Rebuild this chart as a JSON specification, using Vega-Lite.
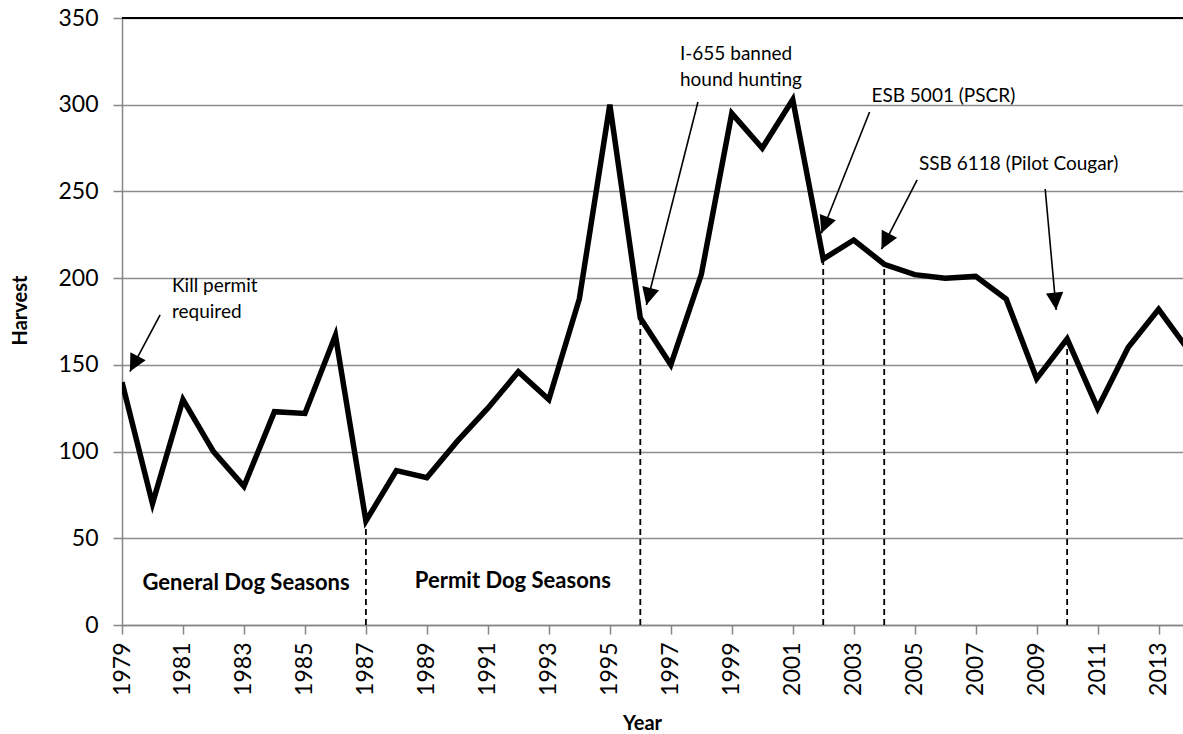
{
  "$schema": "https://vega.github.io/schema/vega-lite/v6.json",
  "autosize": {"type": "none"},
  "padding": {"left": 122, "top": 18, "right": 0, "bottom": 109},
  "width": 1061,
  "height": 607,
  "background": "white",
  "config": {"view": {"stroke": null}, "font": "Lato"},
  "datasets": {
    "harvest": [
      {"year": 1979, "harvest": 140}, {"year": 1980, "harvest": 70}, {"year": 1981, "harvest": 130},
      {"year": 1982, "harvest": 100}, {"year": 1983, "harvest": 80}, {"year": 1984, "harvest": 123},
      {"year": 1985, "harvest": 122}, {"year": 1986, "harvest": 167}, {"year": 1987, "harvest": 60},
      {"year": 1988, "harvest": 89}, {"year": 1989, "harvest": 85}, {"year": 1990, "harvest": 106},
      {"year": 1991, "harvest": 125}, {"year": 1992, "harvest": 146}, {"year": 1993, "harvest": 130},
      {"year": 1994, "harvest": 188}, {"year": 1995, "harvest": 300}, {"year": 1996, "harvest": 177},
      {"year": 1997, "harvest": 150}, {"year": 1998, "harvest": 202}, {"year": 1999, "harvest": 295},
      {"year": 2000, "harvest": 275}, {"year": 2001, "harvest": 303}, {"year": 2002, "harvest": 211},
      {"year": 2003, "harvest": 222}, {"year": 2004, "harvest": 208}, {"year": 2005, "harvest": 202},
      {"year": 2006, "harvest": 200}, {"year": 2007, "harvest": 201}, {"year": 2008, "harvest": 188},
      {"year": 2009, "harvest": 142}, {"year": 2010, "harvest": 165}, {"year": 2011, "harvest": 125},
      {"year": 2012, "harvest": 160}, {"year": 2013, "harvest": 182}, {"year": 2014, "harvest": 158}
    ],
    "events": [
      {"year": 1987, "harvest": 60, "base": 0}, {"year": 1996, "harvest": 177, "base": 0}, {"year": 2002, "harvest": 211, "base": 0},
      {"year": 2004, "harvest": 208, "base": 0}, {"year": 2010, "harvest": 165, "base": 0}
    ],
    "border": [{"harvest": 350}],
    "notes": [
      {"label": "Kill permit\nrequired", "x": 1980.64, "y": 192.2},
      {"label": "I-655 banned\nhound hunting", "x": 1997.3, "y": 325.8},
      {"label": "ESB 5001 (PSCR)", "x": 2003.58, "y": 301.8},
      {"label": "SSB 6118 (Pilot Cougar)", "x": 2005.14, "y": 262.4}
    ],
    "seasons": [
      {"label": "General Dog Seasons", "x": 1983.07, "y": 24.2},
      {"label": "Permit Dog Seasons", "x": 1991.82, "y": 25.5}
    ],
    "arrows": [
      {"x": 1980.25, "y": 178.8, "x2": 1979.26, "y2": 146.1, "angle": 207.9},
      {"x": 1997.89, "y": 301.6, "x2": 1996.2, "y2": 184.5, "angle": 194.2},
      {"x": 2003.52, "y": 295.8, "x2": 2001.94, "y2": 225.9, "angle": 201.7},
      {"x": 2005.08, "y": 256.6, "x2": 2003.91, "y2": 216.7, "angle": 207.2},
      {"x": 2009.28, "y": 251.4, "x2": 2009.64, "y2": 181.7, "angle": 174.8}
    ]
  },
  "layer": [
    {
      "data": {"name": "harvest"},
      "mark": {"type": "line", "color": "black", "strokeWidth": 5.5, "clip": true, "strokeJoin": "miter"},
      "encoding": {
        "x": {
          "field": "year", "type": "quantitative",
          "scale": {"domain": [1979, 2013.8], "nice": false, "zero": false},
          "axis": {
            "title": "Year", "titleFont": "Lato", "titleFontWeight": "bold", "titleFontSize": 20, "titleColor": "black",
            "titleX": 520, "titleY": 98, "titleBaseline": "middle", "titleAlign": "center",
            "values": [1979,1980,1981,1982,1983,1984,1985,1986,1987,1988,1989,1990,1991,1992,1993,1994,1995,1996,1997,1998,1999,2000,2001,2002,2003,2004,2005,2006,2007,2008,2009,2010,2011,2012,2013],
            "labelExpr": "datum.value % 2 == 1 ? format(datum.value, 'd') : ''",
            "labelAngle": -90, "labelAlign": "right", "labelBaseline": "middle",
            "labelFont": "Lato", "labelFontSize": 23, "labelColor": "black", "labelPadding": 8,
            "labelOverlap": false, "labelBound": false, "labelFlush": false,
            "domainColor": "#868686", "domainWidth": 1.5, "tickColor": "#868686", "tickSize": 9, "tickWidth": 1.5,
            "grid": false
          }
        },
        "y": {
          "field": "harvest", "type": "quantitative",
          "scale": {"domain": [0, 350], "nice": false},
          "axis": {
            "title": "Harvest", "titleFont": "Lato", "titleFontWeight": "bold", "titleFontSize": 20, "titleColor": "black",
            "titleX": -102, "titleY": 292, "titleAngle": -90, "titleBaseline": "middle", "titleAlign": "center",
            "values": [0, 50, 100, 150, 200, 250, 300, 350],
            "labelFont": "Lato", "labelFontSize": 23, "labelColor": "black", "labelPadding": 15,
            "domainColor": "#868686", "domainWidth": 1.5, "tickColor": "#868686", "tickSize": 9, "tickWidth": 1.5,
            "grid": true, "gridColor": "#8c8c8c", "gridWidth": 1.5
          }
        }
      }
    },
    {
      "data": {"name": "border"},
      "mark": {"type": "rule", "color": "black", "strokeWidth": 2},
      "encoding": {"y": {"field": "harvest", "type": "quantitative", "scale": {"domain": [0, 350], "nice": false}}}
    },
    {
      "data": {"name": "events"},
      "mark": {"type": "rule", "color": "black", "strokeWidth": 1.8, "strokeDash": [6, 4]},
      "encoding": {
        "x": {"field": "year", "type": "quantitative", "scale": {"domain": [1979, 2013.8], "nice": false, "zero": false}},
        "y": {"field": "base", "type": "quantitative", "scale": {"domain": [0, 350], "nice": false}},
        "y2": {"field": "harvest"}
      }
    },
    {
      "data": {"name": "arrows"},
      "mark": {"type": "rule", "color": "black", "strokeWidth": 1.6},
      "encoding": {
        "x": {"field": "x", "type": "quantitative", "scale": {"domain": [1979, 2013.8], "nice": false, "zero": false}},
        "y": {"field": "y", "type": "quantitative", "scale": {"domain": [0, 350], "nice": false}},
        "x2": {"field": "x2"},
        "y2": {"field": "y2"}
      }
    },
    {
      "data": {"name": "arrows"},
      "mark": {"type": "point", "shape": "M0,0L-1,2L1,2Z", "filled": true, "color": "black", "size": 300, "opacity": 1, "strokeWidth": 0},
      "encoding": {
        "x": {"field": "x2", "type": "quantitative", "scale": {"domain": [1979, 2013.8], "nice": false, "zero": false}},
        "y": {"field": "y2", "type": "quantitative", "scale": {"domain": [0, 350], "nice": false}},
        "angle": {"field": "angle", "type": "quantitative", "scale": null}
      }
    },
    {
      "data": {"name": "notes"},
      "mark": {"type": "text", "align": "left", "baseline": "alphabetic", "font": "Lato", "fontSize": 19, "color": "black", "lineBreak": "\n", "lineHeight": 26},
      "encoding": {
        "x": {"field": "x", "type": "quantitative", "scale": {"domain": [1979, 2013.8], "nice": false, "zero": false}},
        "y": {"field": "y", "type": "quantitative", "scale": {"domain": [0, 350], "nice": false}},
        "text": {"field": "label", "type": "nominal"}
      }
    },
    {
      "data": {"name": "seasons"},
      "mark": {"type": "text", "align": "center", "baseline": "middle", "font": "Lato", "fontWeight": "bold", "fontSize": 22, "color": "black"},
      "encoding": {
        "x": {"field": "x", "type": "quantitative", "scale": {"domain": [1979, 2013.8], "nice": false, "zero": false}},
        "y": {"field": "y", "type": "quantitative", "scale": {"domain": [0, 350], "nice": false}},
        "text": {"field": "label", "type": "nominal"}
      }
    }
  ]
}
